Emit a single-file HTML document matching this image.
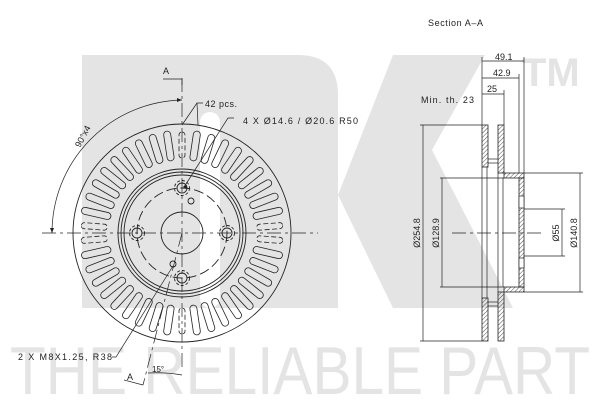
<!DOCTYPE html>
<html><head><meta charset="utf-8"><style>
html,body{margin:0;padding:0;background:#fff;}
svg{display:block;}
text{font-family:"Liberation Sans",sans-serif;}
</style></head><body>
<svg width="600" height="400" viewBox="0 0 600 400" xmlns="http://www.w3.org/2000/svg">
<defs>
<pattern id="h" width="3" height="3" patternUnits="userSpaceOnUse" patternTransform="rotate(45)">
<line x1="0" y1="0" x2="0" y2="3" stroke="#222" stroke-width="0.8"/>
</pattern>
<g id="s" fill="none" stroke="#222" stroke-width="0.8">
<rect x="-3.5" y="-103" width="7" height="30" rx="3.5"/>
</g>
<g id="d" fill="none" stroke="#222" stroke-width="0.8">
<rect x="-3" y="-101" width="6" height="26" rx="3" stroke-dasharray="5,2.5"/>
</g>
</defs>
<!-- watermark -->
<g fill="#e4e4e4">
<path d="M82 55 H298 Q338 55 338 95 V308 H82 Z"/>
<polygon points="393,55 485,55 432,150 513,308 393,308 338,195"/>
<text x="522" y="86" font-size="40" font-weight="bold">TM</text>
<text x="10" y="394" font-size="68" textLength="580" lengthAdjust="spacingAndGlyphs">THE RELIABLE PART</text>
</g>
<rect x="200" y="112" width="20" height="196" rx="10" fill="#fff"/>
<!-- vents -->
<g transform="translate(182 233)">
<use href="#d" transform="rotate(0)"/><use href="#s" transform="rotate(8.571)"/><use href="#s" transform="rotate(17.143)"/><use href="#s" transform="rotate(25.714)"/><use href="#s" transform="rotate(34.286)"/><use href="#s" transform="rotate(42.857)"/><use href="#s" transform="rotate(51.429)"/><use href="#s" transform="rotate(60)"/><use href="#s" transform="rotate(68.571)"/><use href="#s" transform="rotate(77.143)"/><use href="#d" transform="rotate(85.714)"/><use href="#d" transform="rotate(94.286)"/><use href="#s" transform="rotate(102.857)"/><use href="#s" transform="rotate(111.429)"/><use href="#s" transform="rotate(120)"/><use href="#s" transform="rotate(128.571)"/><use href="#s" transform="rotate(137.143)"/><use href="#s" transform="rotate(145.714)"/><use href="#s" transform="rotate(154.286)"/><use href="#s" transform="rotate(162.857)"/><use href="#s" transform="rotate(171.429)"/><use href="#d" transform="rotate(180)"/><use href="#s" transform="rotate(188.571)"/><use href="#s" transform="rotate(197.143)"/><use href="#s" transform="rotate(205.714)"/><use href="#s" transform="rotate(214.286)"/><use href="#s" transform="rotate(222.857)"/><use href="#s" transform="rotate(231.429)"/><use href="#s" transform="rotate(240)"/><use href="#s" transform="rotate(248.571)"/><use href="#s" transform="rotate(257.143)"/><use href="#d" transform="rotate(265.714)"/><use href="#d" transform="rotate(274.286)"/><use href="#s" transform="rotate(282.857)"/><use href="#s" transform="rotate(291.429)"/><use href="#s" transform="rotate(300)"/><use href="#s" transform="rotate(308.571)"/><use href="#s" transform="rotate(317.143)"/><use href="#s" transform="rotate(325.714)"/><use href="#s" transform="rotate(334.286)"/><use href="#s" transform="rotate(342.857)"/><use href="#s" transform="rotate(351.429)"/>
</g>
<!-- front view -->
<g fill="none" stroke="#222" stroke-width="0.9">
<circle cx="182" cy="233" r="109"/>
<circle cx="182" cy="233" r="64"/>
<circle cx="182" cy="233" r="61"/>
<circle cx="182" cy="233" r="58"/>
<circle cx="182" cy="233" r="45" stroke-dasharray="10,4"/>
<circle cx="182" cy="233" r="21"/>
<circle cx="182" cy="188" r="5"/><circle cx="182" cy="188" r="7.5" stroke-dasharray="3,2"/>
<circle cx="137" cy="233" r="5"/><circle cx="137" cy="233" r="7.5" stroke-dasharray="3,2"/>
<circle cx="227" cy="233" r="5"/><circle cx="227" cy="233" r="7.5" stroke-dasharray="3,2"/>
<circle cx="182" cy="278" r="5"/><circle cx="182" cy="278" r="7.5" stroke-dasharray="3,2"/>
<circle cx="191" cy="201" r="3"/><circle cx="173" cy="264" r="3"/>
</g>
<g stroke="#222" stroke-width="0.7" fill="none">
<line x1="42" y1="233" x2="318" y2="233" stroke-dasharray="14,4,3,4"/>
<line x1="182" y1="78" x2="182" y2="368" stroke-dasharray="14,4,3,4"/>
<polyline points="163,79 182,79 182,85"/>
<line x1="182" y1="233" x2="143" y2="385" stroke-dasharray="14,4,3,4"/>
<polyline points="124,380 143,385"/>
<path d="M182 100 A133 133 0 0 0 52 233"/>
<path d="M148 373 A145 145 0 0 1 182 375"/>
<polyline points="234,118 228,118 186,184"/>
<polyline points="203,103 197,103 182,125"/>
<line x1="197" y1="103" x2="198" y2="125"/>
<polyline points="112,357 116,357 173,266"/>
</g>
<g fill="#222">
<polygon points="182,100 177,98 177,102"/>
<polygon points="52,233 50,228 54,228"/>
<polygon points="186,184 187,189 183,187"/>
</g>
<g font-size="9" fill="#222">
<text x="163" y="74">A</text>
<text x="205" y="107" textLength="32">42 pcs.</text>
<text x="243" y="124" textLength="115">4 X Ø14.6 / Ø20.6 R50</text>
<text x="18" y="360" textLength="94">2 X M8X1.25, R38</text>
<text x="127" y="380">A</text>
<text x="152" y="372" font-size="8">15°</text>
<text x="80" y="148" transform="rotate(-62 80 148)">90°x4</text>
</g>
<!-- section view -->
<g font-size="9" fill="#222">
<text x="428" y="26" textLength="55">Section A–A</text>
<text x="421" y="103" textLength="53">Min. th. 23</text>
<text x="495" y="60">49.1</text>
<text x="493" y="76">42.9</text>
<text x="487" y="92">25</text>
<text transform="translate(420 233) rotate(-90)" text-anchor="middle">Ø254.8</text>
<text transform="translate(439 233) rotate(-90)" text-anchor="middle">Ø128.9</text>
<text transform="translate(559 233) rotate(-90)" text-anchor="middle">Ø55</text>
<text transform="translate(577 233) rotate(-90)" text-anchor="middle">Ø140.8</text>
</g>
<g stroke="#222" stroke-width="0.8" fill="url(#h)">
<rect x="482" y="125" width="6" height="42"/>
<rect x="482" y="298" width="6" height="43"/>
<rect x="498" y="125" width="6" height="48"/>
<rect x="498" y="292" width="6" height="49"/>
<rect x="504" y="173" width="20" height="5"/>
<rect x="504" y="287" width="20" height="5"/>
<rect x="519" y="178" width="5" height="109"/>
</g>
<g stroke="#222" stroke-width="0.7" fill="none">
<line x1="482" y1="167" x2="482" y2="298"/>
<line x1="487" y1="167" x2="487" y2="298"/>
<line x1="498" y1="173" x2="498" y2="292"/>
<line x1="503" y1="178" x2="503" y2="287"/>
<line x1="488" y1="159" x2="498" y2="159"/><line x1="488" y1="163" x2="498" y2="163"/>
<line x1="488" y1="302" x2="498" y2="302"/><line x1="488" y1="306" x2="498" y2="306"/>
<rect x="519" y="196" width="5" height="12" fill="#fff"/>
<rect x="519" y="258" width="5" height="10" fill="#fff"/>
<line x1="482" y1="57" x2="482" y2="125"/>
<line x1="504" y1="90" x2="504" y2="125"/>
<line x1="519" y1="74" x2="519" y2="173"/>
<line x1="524" y1="57" x2="524" y2="173"/>
<line x1="482" y1="61" x2="524" y2="61"/>
<line x1="482" y1="78" x2="519" y2="78"/>
<line x1="482" y1="94" x2="504" y2="94"/>
<line x1="420" y1="125" x2="482" y2="125"/>
<line x1="420" y1="341" x2="482" y2="341"/>
<line x1="423" y1="125" x2="423" y2="341"/>
<line x1="440" y1="178" x2="504" y2="178"/>
<line x1="440" y1="287" x2="504" y2="287"/>
<line x1="442" y1="178" x2="442" y2="287"/>
<line x1="524" y1="209" x2="565" y2="209"/>
<line x1="524" y1="256" x2="565" y2="256"/>
<line x1="562" y1="209" x2="562" y2="256"/>
<line x1="524" y1="173" x2="583" y2="173"/>
<line x1="524" y1="292" x2="583" y2="292"/>
<line x1="580" y1="173" x2="580" y2="292"/>
<line x1="452" y1="233" x2="545" y2="233" stroke-dasharray="14,4,3,4"/>
</g>
</svg>
</body></html>
